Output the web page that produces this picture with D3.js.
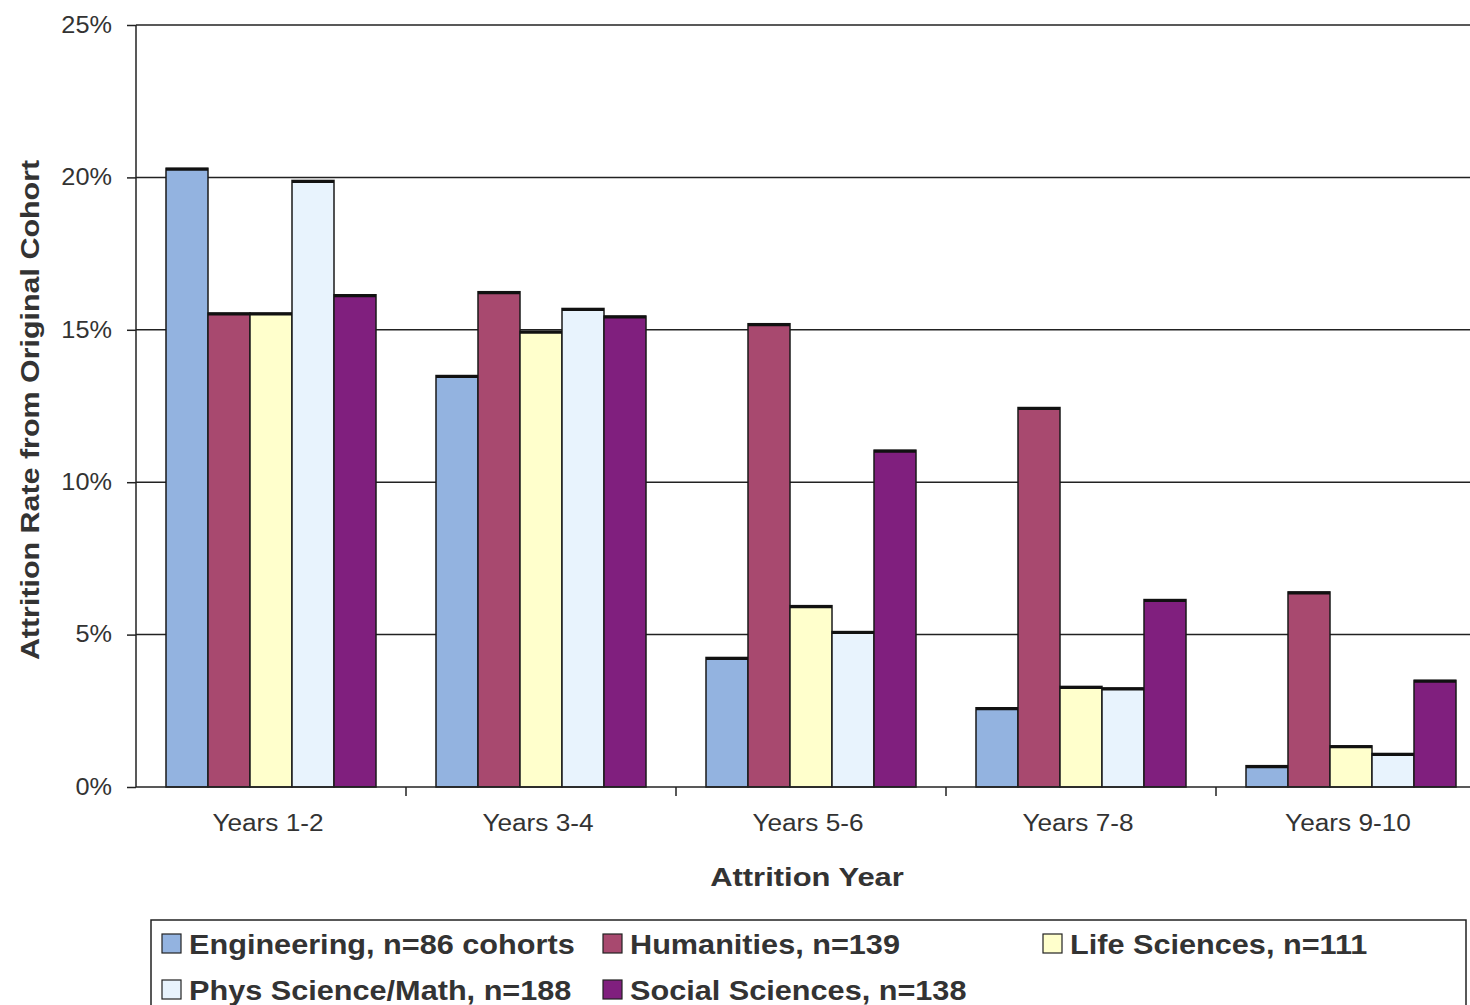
<!DOCTYPE html>
<html>
<head>
<meta charset="utf-8">
<script src="https://cdn.jsdelivr.net/npm/d3@7"></script>
<style>
  html, body { margin: 0; padding: 0; background: #fff; }
  svg { display: block; font-family: "Liberation Sans", Arial, sans-serif; }
</style>
</head>
<body>
<svg id="chart" width="1470" height="1005"></svg>
<script>
// Attrition rate by attrition year and field
const categories = ["Years 1-2", "Years 3-4", "Years 5-6", "Years 7-8", "Years 9-10"];
const seriesNames = ["Engineering, n=86 cohorts", "Humanities, n=139", "Life Sciences, n=111", "Phys Science/Math, n=188", "Social Sciences, n=138"];
const engineering = [20.3, 13.5, 4.25, 2.6, 0.7];
const humanities  = [15.55, 16.25, 15.2, 12.45, 6.4];
const lifeSci     = [15.55, 14.95, 5.95, 3.3, 1.35];
const physMath    = [19.9, 15.7, 5.1, 3.25, 1.1];
const socialSci   = [16.15, 15.45, 11.05, 6.15, 3.5];
const yTicks = [0, 5, 10, 15, 20, 25];
const colors = ["#93b3e0", "#a8496f", "#ffffcc", "#e8f3fd", "#801f7e"];

const series = [engineering, humanities, lifeSci, physMath, socialSci];

// widen text horizontally (the typeface is set wide)
function widen(sel, ratio) {
  sel.each(function () {
    const w = this.getComputedTextLength();
    d3.select(this).attr("textLength", w * ratio).attr("lengthAdjust", "spacingAndGlyphs");
  });
}

const svg = d3.select("#chart");
const plotLeft = 136, plotTop = 25, plotBottom = 787;
const groupW = 270;
const plotRight = plotLeft + groupW * categories.length;

const x0 = d3.scaleBand().domain(categories).range([plotLeft, plotRight]).paddingInner(0).paddingOuter(0);
const x1 = d3.scaleBand().domain(d3.range(series.length)).range([0, x0.bandwidth()]).paddingOuter(30 / 42).paddingInner(0);
const y = d3.scaleLinear().domain([0, 25]).range([plotBottom, plotTop]);

// gridlines
svg.append("g").selectAll("line").data(yTicks.filter(t => t > 0)).join("line")
  .attr("x1", plotLeft).attr("x2", 1470)
  .attr("y1", d => y(d)).attr("y2", d => y(d))
  .attr("stroke", "#222").attr("stroke-width", 1.5);

// bars
const groups = svg.append("g").selectAll("g").data(categories).join("g")
  .attr("transform", d => `translate(${x0(d)},0)`);
const barData = (c, ci) => series.map((s, si) => ({ si, v: s[ci] }));
groups.selectAll("rect").data(barData).join("rect")
  .attr("x", d => x1(d.si))
  .attr("width", x1.bandwidth())
  .attr("y", d => y(d.v))
  .attr("height", d => plotBottom - y(d.v))
  .attr("fill", d => colors[d.si])
  .attr("stroke", "#1a1a1a").attr("stroke-width", 1.5);
// darker top edge on each bar
groups.selectAll("line.top").data(barData).join("line")
  .attr("class", "top")
  .attr("x1", d => x1(d.si)).attr("x2", d => x1(d.si) + x1.bandwidth())
  .attr("y1", d => y(d.v) + 1).attr("y2", d => y(d.v) + 1)
  .attr("stroke", "#111").attr("stroke-width", 3);

// y axis
const yAxis = d3.axisLeft(y).tickValues(yTicks).tickFormat(d => d + "%").tickSize(9).tickPadding(15);
const gy = svg.append("g").attr("transform", `translate(${plotLeft},0)`).call(yAxis);
gy.select(".domain").attr("stroke", "#222").attr("stroke-width", 1.5).attr("d", `M0,${plotTop}V${plotBottom}`);
gy.selectAll(".tick line").attr("stroke", "#222").attr("stroke-width", 1.5);
gy.selectAll(".tick text").attr("font-size", 23).attr("fill", "#333").attr("font-family", "Liberation Sans, Arial, sans-serif")
  .call(widen, 1.1);

// x axis
const xAxis = d3.axisBottom(x0).tickSize(0).tickPadding(28);
const gx = svg.append("g").attr("transform", `translate(-3,${plotBottom})`).call(xAxis);
gx.select(".domain").remove();
gx.selectAll(".tick text").attr("font-size", 23).attr("fill", "#333").attr("font-family", "Liberation Sans, Arial, sans-serif")
  .call(widen, 1.14);
svg.append("line").attr("x1", plotLeft).attr("x2", 1470).attr("y1", plotBottom).attr("y2", plotBottom)
  .attr("stroke", "#222").attr("stroke-width", 1.5);
// boundary ticks between groups
svg.append("g").selectAll("line").data(categories.slice(1)).join("line")
  .attr("x1", d => x0(d)).attr("x2", d => x0(d))
  .attr("y1", plotBottom).attr("y2", plotBottom + 9)
  .attr("stroke", "#222").attr("stroke-width", 1.5);

// axis titles
svg.append("text").attr("x", 807).attr("y", 886).attr("text-anchor", "middle")
  .attr("font-size", 26).attr("font-weight", "bold").attr("fill", "#333").text("Attrition Year")
  .call(widen, 1.19);
svg.append("text").attr("transform", "translate(39,410) rotate(-90)").attr("text-anchor", "middle")
  .attr("font-size", 26).attr("font-weight", "bold").attr("fill", "#333").text("Attrition Rate from Original Cohort")
  .call(widen, 1.17);

// legend
const legend = svg.append("g");
legend.append("rect").attr("x", 151).attr("y", 920).attr("width", 1315).attr("height", 100)
  .attr("fill", "#fff").attr("stroke", "#222").attr("stroke-width", 1.5);
const legendPos = [[162, 944], [603, 944], [1043, 944], [162, 990], [603, 990]];
const items = legend.selectAll("g").data(seriesNames).join("g")
  .attr("transform", (d, i) => `translate(${legendPos[i][0]},${legendPos[i][1]})`);
items.append("rect").attr("x", 0).attr("y", -10).attr("width", 19).attr("height", 19)
  .attr("fill", (d, i) => colors[i]).attr("stroke", "#222").attr("stroke-width", 1.2);
items.append("text").attr("x", 27).attr("y", 0).attr("dy", "0.36em")
  .attr("font-size", 27).attr("font-weight", "bold").attr("fill", "#333").text(d => d)
  .call(widen, 1.135);
</script>
</body>
</html>
